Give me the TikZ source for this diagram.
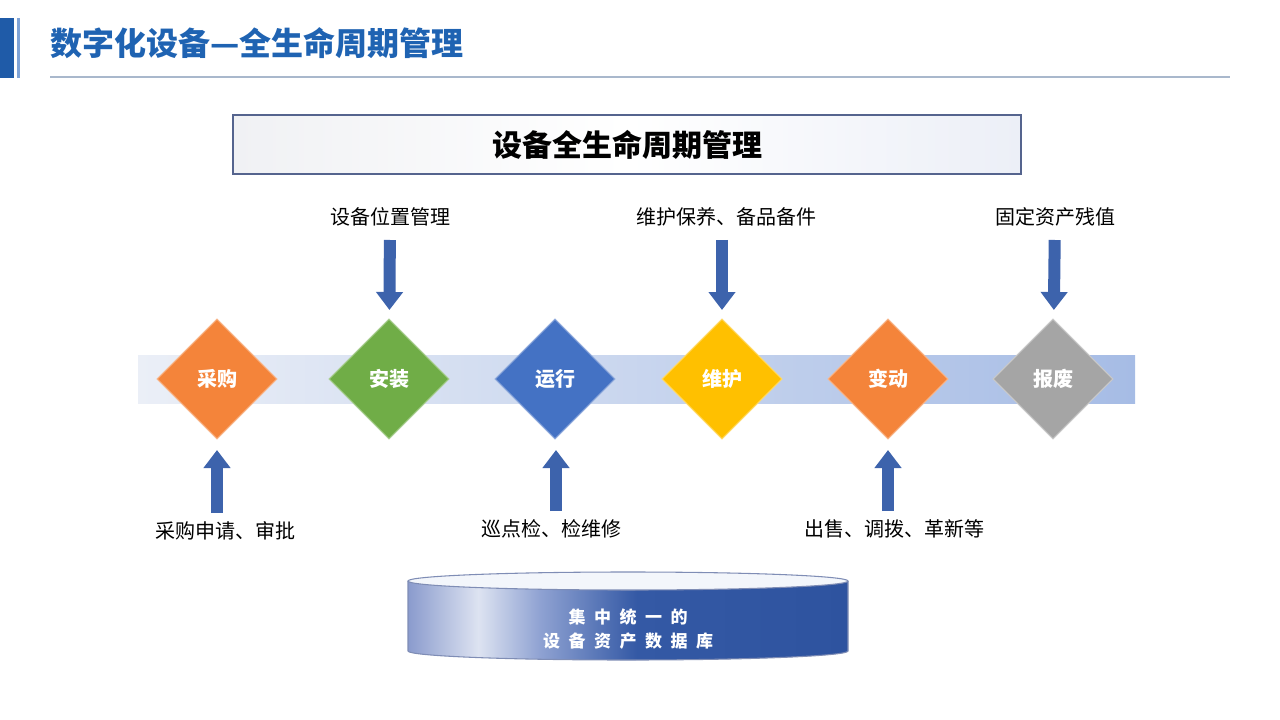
\documentclass[tikz,border=0pt]{standalone}
\usepackage{fontspec}
\setmainfont{Noto Sans CJK SC}
\usetikzlibrary{shapes.geometric,arrows.meta}
\definecolor{hdrDark}{HTML}{1F5BA8}
\definecolor{hdrLight}{HTML}{7FA3D6}
\definecolor{titleBlue}{HTML}{1F63B2}
\definecolor{hline}{HTML}{A9B8CC}
\definecolor{boxB}{HTML}{55648E}
\definecolor{boxL}{HTML}{F0F1F4}
\definecolor{boxR}{HTML}{ECEFF7}
\definecolor{bandL}{HTML}{EBEFF7}
\definecolor{bandR}{HTML}{A6BCE5}
\definecolor{cOrange}{HTML}{F4843A}
\definecolor{cGreen}{HTML}{70AD47}
\definecolor{cBlue}{HTML}{4472C4}
\definecolor{cYellow}{HTML}{FFC000}
\definecolor{cGray}{HTML}{A5A5A5}
\definecolor{arrowBlue}{HTML}{3D63AC}
\definecolor{cylA}{HTML}{8A9BCD}
\definecolor{cylB}{HTML}{DDE3F1}
\definecolor{cylC}{HTML}{8FA2D2}
\definecolor{cylD}{HTML}{3459A5}
\definecolor{cylE}{HTML}{2E539F}
\definecolor{cylTop}{HTML}{F3F6FB}
\definecolor{cylEdge}{HTML}{7F8DB5}
\pgfdeclarehorizontalshading{dbshade}{100bp}{color(0bp)=(cylA); color(25bp)=(cylA); color(33bp)=(cylB); color(40bp)=(cylC); color(51bp)=(cylD); color(75bp)=(cylE); color(100bp)=(cylE)}
\tikzset{
  dia/.style={diamond, minimum width=90pt, minimum height=90pt, inner sep=0pt, text=white,
    font=\bfseries\fontsize{15}{15}\selectfont, line width=0.8pt},
  lbl/.style={font=\fontsize{15}{18}\selectfont, text=black, inner sep=0pt},
  fat/.style={draw=arrowBlue, line width=9pt, -{Triangle[width=19.5pt,length=13.5pt]}},
  cyltxt/.style={font=\bfseries\fontsize{12.75}{14}\selectfont, text=white, inner sep=0pt},
}
\newcommand{\cgap}{\hspace{0.5em}}
\begin{document}
\begin{tikzpicture}[x=0.75pt,y=-0.75pt]
\useasboundingbox (0,0) rectangle (1280,720);
% header
\fill[hdrDark] (0,18) rectangle (14,78);
\fill[hdrLight] (17,18) rectangle (20,78);
\node[anchor=west, inner sep=0pt, text=titleBlue, font=\bfseries\fontsize{24}{26}\selectfont] (title) at (50,43) {数字化设备—全生命周期管理};
\draw[hline, line width=1pt] (50,77) -- (1230,77);
% main box
\node[draw=boxB, line width=0.8pt, left color=boxL, right color=boxR, middle color=white,
  minimum width=591pt, minimum height=44.25pt, inner sep=0pt,
  font=\bfseries\fontsize{22.5}{24}\selectfont] (box) at (627,144.5) {设备全生命周期管理};
% band
\shade[left color=bandL, right color=bandR] (138,355) rectangle (1135,403);
% diamonds
\node[dia, fill=cOrange, draw=cOrange!60!white] (d1) at (217,379) {采购};
\node[dia, fill=cGreen, draw=cGreen!60!white] (d2) at (389,379) {安装};
\node[dia, fill=cBlue, draw=cBlue!60!white] (d3) at (555,379) {运行};
\node[dia, fill=cYellow, draw=cYellow!60!white] (d4) at (722,379) {维护};
\node[dia, fill=cOrange, draw=cOrange!60!white] (d5) at (888,379) {变动};
\node[dia, fill=cGray, draw=cGray!60!white] (d6) at (1053,379) {报废};
% top labels
\node[lbl] (t2) at (390,217) {设备位置管理};
\node[lbl] (t4) at (726,217) {维护保养、备品备件};
\node[lbl] (t6) at (1055,217) {固定资产残值};
% bottom labels
\node[lbl] (b1) at (225,531) {采购申请、审批};
\node[lbl] (b3) at (551,529) {巡点检、检维修};
\node[lbl] (b5) at (894,529) {出售、调拨、革新等};
% arrows
\draw[fat, shorten <=17.25pt, shorten >=51.75pt] (t2.center) -- (d2.center);
\draw[fat, shorten <=17.25pt, shorten >=51.75pt] ([xshift=-3pt]t4.center) -- (d4.center);
\draw[fat, shorten <=17.25pt, shorten >=51.75pt] (t6.center) -- (d6.center);
\draw[fat, shorten <=13.5pt, shorten >=53.25pt] ([xshift=-6pt]b1.center) -- (d1.center);
\draw[fat, shorten <=13.5pt, shorten >=53.25pt] ([xshift=3.75pt]b3.center) -- ([xshift=0.75pt]d3.center);
\draw[fat, shorten <=13.5pt, shorten >=53.25pt] ([xshift=-4.5pt]b5.center) -- (d5.center);
% database cylinder
\shade[shading=dbshade] (408,581) -- (408,651) arc[start angle=180, end angle=0, x radius=220, y radius=9] -- (848,581) arc[start angle=0, end angle=180, x radius=220, y radius=9] -- cycle;
\draw[cylEdge, line width=0.8pt] (408,581) -- (408,651) arc[start angle=180, end angle=0, x radius=220, y radius=9] -- (848,581);
\draw[cylEdge, line width=0.8pt, fill=cylTop] (628,581) ellipse [x radius=220, y radius=9];
\node[cyltxt] (c1) at (628,617) {集\cgap 中\cgap 统\cgap 一\cgap 的};
\node[cyltxt] (c2) at (628,641) {设\cgap 备\cgap 资\cgap 产\cgap 数\cgap 据\cgap 库};
\end{tikzpicture}
\end{document}
